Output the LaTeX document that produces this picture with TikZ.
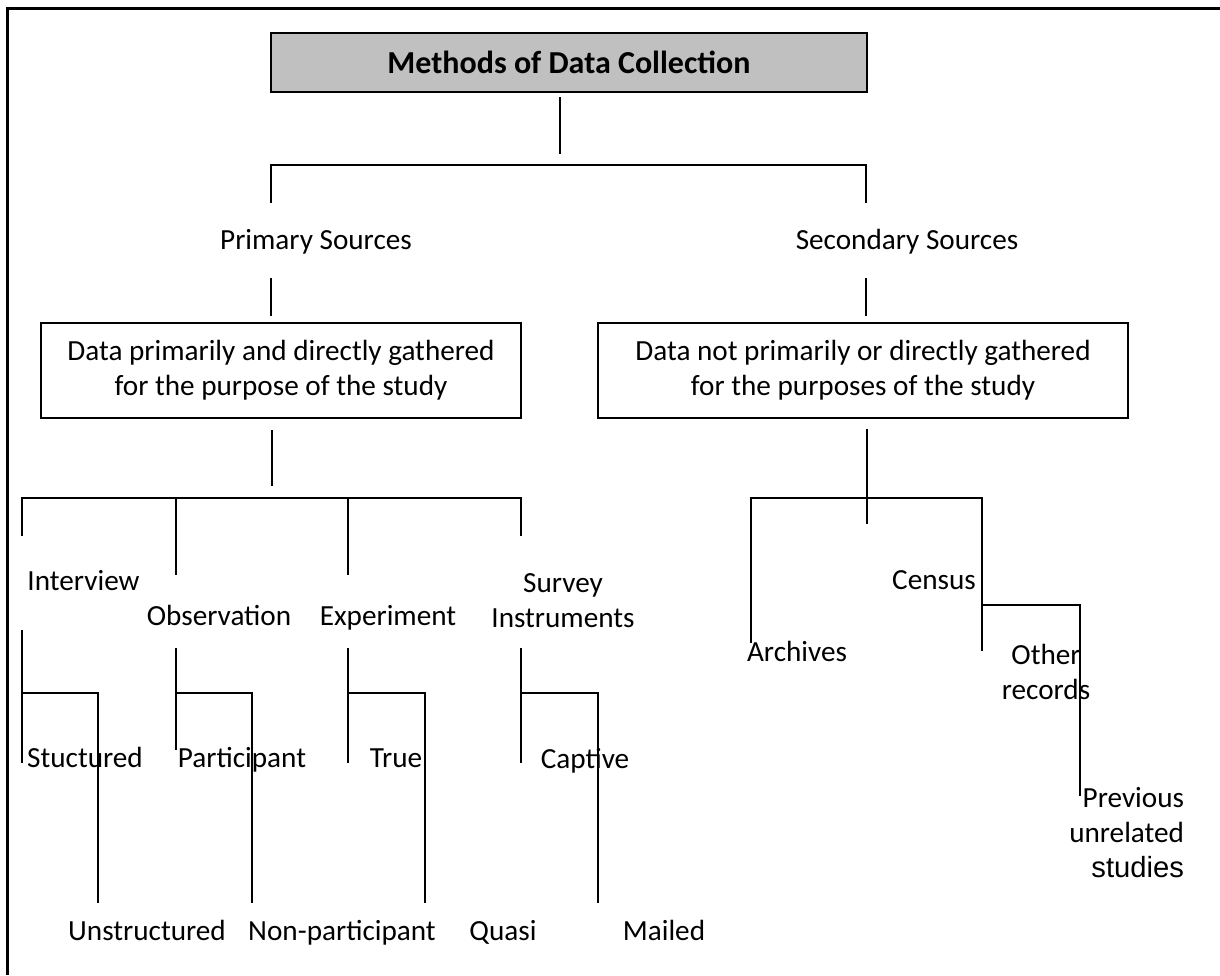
\documentclass[tikz,border=0pt]{standalone}
\usepackage{fontspec}
\setmainfont{Carlito}
\newfontfamily\arialfont{Liberation Sans}
\definecolor{titlegray}{HTML}{C0C0C0}

\begin{document}
\begin{tikzpicture}[x=0.5pt, y=-0.5pt, line width=1pt,
    lbl/.style={inner sep=0pt, align=center, font=\fontsize{14.6}{17.5}\selectfont},
    word/.style={lbl, text height=10pt, text depth=3pt},
    box/.style={lbl, draw, line width=1pt, minimum height=47.5pt}]
    \useasboundingbox (0,0) rectangle (1220,975);

    % Frame (only top and left edge are in the picture)
    \draw[line width=1.5pt] (7,975) -- (7,8) -- (1220,8);

    % Title
    \node[lbl, draw, fill=titlegray, minimum width=298pt, minimum height=29.5pt,
          font=\fontsize{16}{19}\selectfont\bfseries] (title) at (569,62.5) {Methods of Data Collection};

    % Sources
    \node[word] (prim) at (316,242) {Primary Sources};
    \node[word] (sec) at (907,242) {Secondary Sources};
    \node[box, minimum width=240pt] (pbox) at (281,370.5)
        {Data primarily and directly gathered\\for the purpose of the study};
    \node[box, minimum width=265pt] (sbox) at (863,370.5)
        {Data not primarily or directly gathered\\for the purposes of the study};

    % Primary methods
    \node[word] (interview) at (83.5,583) {Interview};
    \node[word] (observation) at (219,618) {Observation};
    \node[word] (experiment) at (388,618) {Experiment};
    \node[lbl] (survey) at (563,600.5) {Survey\\Instruments};
    \node[word] (stuct) at (85,760) {Stuctured};
    \node[word] (partic) at (242,760) {Participant};
    \node[word] (true) at (396,760) {True};
    \node[word] (captive) at (585,761) {Captive};
    \node[word] (unstruct) at (147,933) {Unstructured};
    \node[word] (nonpart) at (342,933) {Non-participant};
    \node[word] (quasi) at (503,933) {Quasi};
    \node[word] (mailed) at (664,933) {Mailed};

    % Secondary methods
    \node[word] (archives) at (797,654) {Archives};
    \node[word] (census) at (934,582) {Census};
    \node[lbl] (other) at (1046,672) {Other\\records};
    \node[lbl, align=right, anchor=east] (prev) at (1185,833) {Previous\\unrelated\\{\arialfont studies}};

    % Connectors, top part
    \coordinate (m1) at (560,97);
    \coordinate (s1) at (271,203);
    \coordinate (s2) at (866,203);
    \coordinate (p1) at (271,278);
    \coordinate (p2) at (866,278);
    \draw (m1) -- ++(0,57);
    \draw (s1) -- ++(0,-38) -| (s2);
    \draw (p1) -- ++(0,38);
    \draw (p2) -- ++(0,38);

    % Connectors, primary side
    \coordinate (pb) at (272,430);
    \coordinate (b1) at (22,536);
    \coordinate (b4) at (521,536);
    \draw (pb) -- ++(0,56);
    \draw (b1) -- ++(0,-38) -| (b4);
    \foreach \x [count=\i] in {176,348} {
        \coordinate (v\i) at (\x,498);
        \draw (v\i) -- ++(0,77);
    }
    \foreach \x/\t/\b/\r [count=\i] in {22/630/763/98, 176/648/750/252, 348/648/763/425, 521/648/763/598} {
        \coordinate (k\i) at (\x,\t);
        \coordinate (c\i) at (\x,693);
        \draw (k\i) -- ++(0,\b-\t);
        \draw (c\i) -| ++(\r-\x,210);
    }

    % Connectors, secondary side
    \coordinate (q1) at (867,429);
    \coordinate (a1) at (751,643);
    \coordinate (a2) at (982,651);
    \coordinate (o1) at (982,605);
    \draw (q1) -- ++(0,95);
    \draw (a1) -- ++(0,-145) -| (a2);
    \draw (o1) -| ++(98,191);
\end{tikzpicture}
\end{document}
